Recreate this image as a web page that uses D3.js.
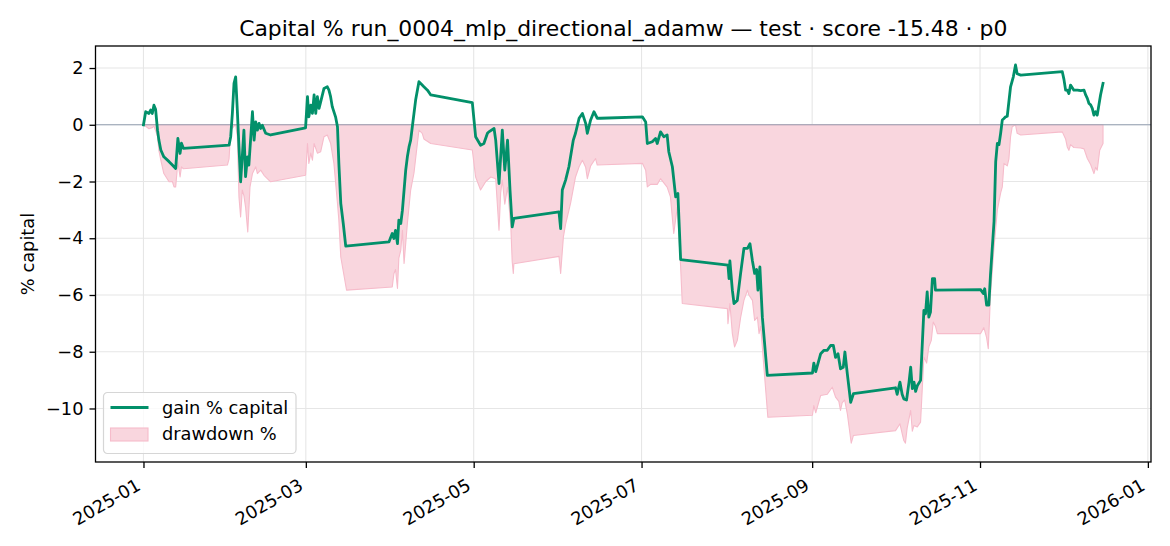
<!DOCTYPE html>
<html>
<head>
<meta charset="utf-8">
<script src="https://cdn.jsdelivr.net/npm/d3@7"></script>
<style>
  body { margin: 0; background: #fff; }
  svg { display: block; font-family: "DejaVu Sans", sans-serif; }
</style>
</head>
<body>
<svg id="chart" width="1170" height="546"></svg>
<script>
// Series start date; days are counted from here (fractional = intraday)
const START = Date.UTC(2025, 0, 1);

// gain % capital
const gainDay = [0.0, 0.8, 2.0, 2.6, 3.2, 3.8, 4.4, 5.1, 5.6, 6.3, 7.4, 9.3, 10.5, 11.7, 12.5, 13.3, 13.8, 14.5,
  31.1, 31.7, 32.3, 32.9, 33.5, 34.1, 34.7, 35.3, 35.9, 36.5, 37.1, 37.8, 38.3, 39.0, 39.6, 40.2, 40.8, 41.4, 42.0, 42.6, 43.2, 44.4, 46.2,
  58.9, 59.6, 60.1, 60.8, 61.4, 62.0, 62.6, 63.2, 63.8, 64.4, 65.6, 66.8, 67.4, 68.0, 68.6, 69.8, 70.5, 71.0, 71.7, 72.6, 73.5,
  89.2, 90.4, 91.0, 91.6, 92.3, 92.8, 93.5, 94.1, 94.7, 95.3, 95.9, 96.5, 97.1, 97.7, 98.9, 100.1, 101.9, 103.2, 104.4,
  119.5, 120.7, 122.5, 123.7, 125.0, 125.5, 127.4, 128.0, 129.2, 130.4, 131.3, 132.3, 133.2, 134.0, 134.6,
  151.0, 151.6, 152.2, 153.4, 154.6, 155.2, 156.2, 157.0, 158.3, 159.5, 160.7, 161.3, 162.5, 163.7, 164.9, 166.1,
  181.3, 182.5, 183.1, 184.9, 186.1, 186.7, 187.9, 189.1, 190.3, 190.9, 192.2, 193.4, 194.2, 195.2,
  212.4, 212.8, 213.1, 214.0, 214.6, 215.8, 217.0, 218.2, 219.5, 220.4, 221.3, 222.1, 222.8, 223.3, 224.0, 224.9, 226.7,
  243.1, 243.6, 244.3, 246.1, 247.3, 248.5, 249.7, 250.7, 251.5, 252.4, 253.3, 254.3, 254.9, 255.8, 257.0, 258.0,
  273.3, 273.9, 274.9, 275.7, 276.3, 277.3, 278.2, 278.8, 279.4, 280.0, 280.6, 281.2, 282.4, 283.6, 284.2, 284.8, 285.4, 286.0, 286.7, 287.5, 287.8,
  304.2, 305.2, 305.7, 306.4, 307.2, 307.8, 309.1, 309.7, 310.3, 310.9, 311.5, 312.1, 312.7, 313.3, 313.9, 315.1, 316.1, 316.9, 317.5, 318.8,
  333.9, 334.5, 335.1, 335.7, 336.3, 336.9, 338.1, 339.4, 340.6, 341.8, 342.4, 343.0, 343.6, 344.2, 344.8, 345.4, 346.0, 346.6, 347.2, 347.8, 348.7];
const gainPct = [0.00, 0.46, 0.40, 0.52, 0.40, 0.69, 0.55, -0.19, -0.54, -0.89, -1.13, -1.30, -1.42, -1.54, -0.48, -1.01, -0.65, -0.83,
  -0.72, -0.42, 0.40, 1.46, 1.69, 0.52, -0.78, -2.01, -1.13, -0.19, -1.83, -1.13, -1.42, -0.42, 0.46, -0.54, 0.10, -0.19, 0.05, -0.13, -0.02, -0.30, -0.36,
  -0.11, 0.99, 0.28, 0.69, 0.40, 1.05, 0.40, 0.99, 0.58, 0.81, 1.28, 1.34, 1.22, 0.99, 0.64, 0.28, -0.07, -1.36, -2.77, -3.48, -4.28,
  -4.13, -3.83, -4.01, -3.72, -4.19, -3.36, -3.48, -3.01, -2.30, -1.60, -1.13, -0.78, -0.54, -0.07, 0.87, 1.52, 1.34, 1.22, 1.05,
  0.78, -0.42, -0.72, -0.66, -0.30, -0.25, -0.13, -0.54, -2.07, -0.19, -1.60, -0.54, -2.30, -3.60, -3.30,
  -3.07, -3.66, -2.30, -1.95, -1.48, -1.13, -0.54, -0.30, 0.23, 0.40, 0.05, -0.30, 0.17, 0.46, 0.23, 0.23,
  0.28, 0.10, -0.66, -0.60, -0.48, -0.66, -0.25, -0.42, -0.36, -0.95, -1.48, -2.54, -2.42, -4.75,
  -4.95, -5.42, -4.80, -5.83, -6.30, -6.19, -5.24, -4.36, -4.36, -4.19, -4.80, -5.24, -5.10, -5.83, -5.01, -6.78, -8.83,
  -8.75, -8.40, -8.70, -8.07, -7.95, -7.95, -7.78, -7.78, -8.20, -8.07, -8.60, -8.55, -8.01, -8.80, -9.78, -9.48,
  -9.27, -9.50, -9.07, -9.50, -9.66, -9.70, -9.07, -8.54, -9.30, -9.07, -9.40, -9.20, -9.01, -6.54, -6.66, -5.89, -6.78, -6.60, -5.42, -5.42, -5.83,
  -5.81, -5.95, -5.78, -6.36, -6.36, -5.30, -3.40, -1.30, -0.66, -0.70, -0.30, 0.17, 0.22, 0.28, 0.30, 1.34, 1.69, 2.11, 1.80, 1.75,
  1.87, 1.60, 1.22, 1.22, 1.10, 1.40, 1.22, 1.22, 1.20, 1.22, 1.05, 0.93, 0.75, 0.70, 0.58, 0.34, 0.46, 0.34, 0.70, 1.05, 1.46];

// drawdown %
const ddDay = [0.0, 0.8, 2.0, 3.2, 3.8, 4.4, 5.1, 5.6, 6.3, 7.4, 9.3, 10.5, 11.1, 11.7, 12.5, 13.3, 13.8, 14.5,
  30.5, 31.1, 31.7, 32.9, 33.5, 34.1, 34.7, 35.3, 35.9, 36.5, 37.1, 37.9, 38.7, 39.6, 40.8, 41.4, 42.6, 43.8, 46.2,
  58.9, 59.6, 60.1, 60.8, 61.4, 62.0, 63.2, 64.4, 65.6, 66.8, 68.0, 69.2, 70.5, 71.0, 71.7, 73.8,
  90.4, 91.0, 91.6, 92.3, 92.8, 93.5, 94.1, 94.7, 95.9, 97.1, 98.3, 100.1, 101.3, 101.9, 104.4,
  119.5, 120.7, 122.5, 124.4, 126.2, 128.0, 129.2, 129.8, 130.4, 131.3, 132.3, 133.5, 134.0, 134.4, 134.6,
  151.0, 151.6, 152.6, 153.4, 155.2, 157.0, 158.3, 159.5, 160.7, 161.3, 162.5, 164.3, 164.9,
  181.3, 182.5, 183.1, 184.3, 186.7, 187.9, 190.3, 191.5, 192.7, 194.0, 195.2, 195.8,
  212.2, 212.4, 213.1, 214.0, 214.8, 215.8, 217.0, 218.2, 219.5, 220.0, 221.3, 222.1, 223.1, 223.7, 224.3, 225.5, 226.9,
  243.1, 243.6, 244.3, 246.1, 248.5, 250.3, 251.5, 252.7, 253.3, 253.9, 254.8, 255.8, 257.2, 258.0,
  273.3, 274.9, 276.3, 276.9, 277.5, 278.8, 279.4, 280.0, 281.2, 282.4, 283.6, 284.6, 285.4, 286.3, 287.0, 287.8, 288.5,
  304.2, 305.4, 306.4, 307.0, 307.8, 309.1, 310.3, 311.5, 312.1, 312.7, 313.9, 314.5, 315.1, 315.7, 316.9, 317.5, 318.8,
  333.9, 335.1, 335.7, 336.3, 336.9, 338.1, 340.6, 341.8, 343.0, 344.2, 345.4, 346.0, 346.6, 347.5, 348.7];
const ddPct = [0.00, -0.05, -0.14, -0.10, -0.05, -0.20, -0.42, -0.90, -1.25, -1.72, -2.01, -2.00, -2.19, -2.19, -1.31, -1.84, -1.48, -1.55,
  -1.42, -1.20, -0.20, -0.05, 0.00, -0.40, -2.54, -3.25, -2.30, -2.50, -2.90, -3.78, -2.20, -1.72, -1.48, -1.72, -1.60, -1.78, -2.01,
  -1.78, -0.66, -1.36, -1.00, -1.25, -0.66, -1.00, -0.95, -0.42, -0.36, -0.65, -1.36, -2.77, -3.36, -4.66, -5.83,
  -5.72, -5.25, -5.10, -5.77, -4.70, -4.42, -3.72, -4.89, -3.48, -2.30, -1.70, -0.19, -0.30, -0.50, -0.66,
  -0.89, -1.84, -2.30, -2.00, -1.84, -1.90, -3.72, -2.40, -1.95, -2.80, -2.20, -3.60, -4.83, -5.24, -4.90,
  -4.64, -5.24, -3.95, -3.50, -2.77, -1.84, -1.48, -1.25, -1.50, -1.90, -1.45, -1.19, -1.42,
  -1.36, -1.60, -2.19, -2.10, -2.10, -1.90, -2.20, -2.54, -3.83, -2.90, -5.00, -6.30,
  -6.48, -7.01, -6.30, -7.36, -7.83, -7.60, -6.80, -6.19, -5.83, -6.00, -6.19, -6.90, -6.78, -7.36, -7.10, -8.60, -10.31,
  -10.24, -9.90, -10.15, -9.54, -9.50, -9.25, -9.60, -9.75, -10.07, -9.80, -9.70, -10.20, -11.22, -10.95,
  -10.78, -10.54, -11.13, -11.22, -10.70, -10.07, -10.80, -10.60, -10.65, -10.48, -8.19, -8.40, -7.83, -7.60, -6.95, -7.10, -7.36,
  -7.36, -7.15, -7.50, -7.89, -6.00, -4.31, -3.00, -2.40, -2.19, -1.36, -1.45, -1.20, -0.42, -0.07, 0.00, -0.30, -0.36,
  -0.25, -0.50, -0.78, -0.90, -0.70, -0.80, -0.82, -0.85, -1.19, -1.40, -1.72, -1.50, -1.60, -0.90, -0.66];

const xTickLabels = ["2025-01", "2025-03", "2025-05", "2025-07", "2025-09", "2025-11", "2026-01"];
const yTicks = [-10, -8, -6, -4, -2, 0, 2];
const seriesNames = ["gain % capital", "drawdown %"];
const title = "Capital % run_0004_mlp_directional_adamw \u2014 test \u00b7 score -15.48 \u00b7 p0";

const GREEN = "#02906a";
const PINK_FILL = "#f9d6de";
const PINK_EDGE = "#f6bccb";

const width = 1170, height = 546;
const margin = {top: 46, right: 19, bottom: 84, left: 95.5};
const FS = 17.8; // tick / legend font size (px)

const toDate = d => new Date(START + d * 864e5);
const gain = gainDay.map((d, i) => ({t: toDate(d), v: gainPct[i]}));
const dd = ddDay.map((d, i) => ({t: toDate(d), v: ddPct[i]}));

const svg = d3.select("#chart");

// matplotlib-like 5% auto margins
const tExt = d3.extent(gain.concat(dd), d => d.t);
const tPad = (tExt[1] - tExt[0]) * 0.05;
const x = d3.scaleUtc()
  .domain([new Date(+tExt[0] - tPad), new Date(+tExt[1] + tPad)])
  .range([margin.left, width - margin.right]);

const vExt = d3.extent(gain.concat(dd), d => d.v);
const vPad = (vExt[1] - vExt[0]) * 0.05;
const y = d3.scaleLinear()
  .domain([vExt[0] - vPad, vExt[1] + vPad])
  .range([height - margin.bottom, margin.top]);

const parseTick = d3.utcParse("%Y-%m");
const xTicks = xTickLabels.map(parseTick);

// grid
const grid = svg.append("g").attr("stroke", "#e6e6e6").attr("stroke-width", 1.1);
grid.selectAll("line.gx").data(xTicks).join("line")
  .attr("x1", d => x(d)).attr("x2", d => x(d))
  .attr("y1", margin.top).attr("y2", height - margin.bottom);
grid.selectAll("line.gy").data(yTicks).join("line")
  .attr("x1", margin.left).attr("x2", width - margin.right)
  .attr("y1", d => y(d)).attr("y2", d => y(d));

// drawdown fill
const area = d3.area().x(d => x(d.t)).y0(y(0)).y1(d => y(d.v));
svg.append("path").datum(dd)
  .attr("d", area)
  .attr("fill", PINK_FILL)
  .attr("stroke", PINK_EDGE)
  .attr("stroke-width", 1.1)
  .attr("stroke-linejoin", "round");

// zero line
svg.append("line")
  .attr("x1", margin.left).attr("x2", width - margin.right)
  .attr("y1", y(0)).attr("y2", y(0))
  .attr("stroke", "#95a1b2").attr("stroke-width", 1.2);

// gain line
const line = d3.line().x(d => x(d.t)).y(d => y(d.v));
svg.append("path").datum(gain)
  .attr("d", line)
  .attr("fill", "none")
  .attr("stroke", GREEN)
  .attr("stroke-width", 2.8)
  .attr("stroke-linejoin", "round")
  .attr("stroke-linecap", "square");

// frame
svg.append("rect")
  .attr("x", margin.left).attr("y", margin.top)
  .attr("width", width - margin.left - margin.right)
  .attr("height", height - margin.top - margin.bottom)
  .attr("fill", "none").attr("stroke", "#000").attr("stroke-width", 1.3);

// y axis
const yAxis = svg.append("g")
  .attr("transform", `translate(${margin.left},0)`)
  .call(d3.axisLeft(y).tickValues(yTicks).tickSize(6).tickPadding(6)
    .tickFormat(d => d < 0 ? "\u2212" + Math.abs(d) : String(d)));
yAxis.select(".domain").remove();
yAxis.selectAll("line").attr("stroke", "#000").attr("stroke-width", 1.3);
yAxis.selectAll("text").attr("font-size", FS).attr("font-family", "DejaVu Sans").attr("fill", "#000");

// x axis
const xAxis = svg.append("g")
  .attr("transform", `translate(0,${height - margin.bottom})`)
  .call(d3.axisBottom(x).tickValues(xTicks).tickSize(6).tickFormat(d3.utcFormat("%Y-%m")));
xAxis.select(".domain").remove();
xAxis.selectAll("line").attr("stroke", "#000").attr("stroke-width", 1.3);
const boxH = 1.164 * FS;
xAxis.selectAll("text")
  .attr("font-size", FS).attr("font-family", "DejaVu Sans").attr("fill", "#000")
  .attr("text-anchor", "end")
  .attr("y", 0).attr("dy", "0.93em")
  .attr("transform", `translate(${-0.5 * boxH},12.4) rotate(-30)`);

// y label
svg.append("text")
  .attr("transform", `translate(27,${(margin.top + height - margin.bottom) / 2}) rotate(-90)`)
  .attr("text-anchor", "middle").attr("dominant-baseline", "central")
  .attr("font-size", FS).text("% capital");

// title
svg.append("text")
  .attr("x", (margin.left + width - margin.right) / 2).attr("y", 36)
  .attr("text-anchor", "middle").attr("font-size", 21.9)
  .text(title);

// legend
const lg = svg.append("g").attr("transform", "translate(103.5,392.5)");
lg.append("rect").attr("width", 192.5).attr("height", 61).attr("rx", 4)
  .attr("fill", "#fff").attr("fill-opacity", 0.8)
  .attr("stroke", "#d6d6d6").attr("stroke-width", 1.2);
lg.append("line").attr("x1", 7).attr("x2", 45).attr("y1", 15).attr("y2", 15)
  .attr("stroke", GREEN).attr("stroke-width", 2.8);
lg.append("rect").attr("x", 7).attr("y", 35.5).attr("width", 37.5).attr("height", 13)
  .attr("fill", PINK_FILL).attr("stroke", PINK_EDGE).attr("stroke-width", 1.1);
lg.selectAll("text.lab").data(seriesNames).join("text")
  .attr("x", 58.5).attr("y", (d, i) => 21 + i * 26.5)
  .attr("font-size", FS).text(d => d);
</script>
</body>
</html>
